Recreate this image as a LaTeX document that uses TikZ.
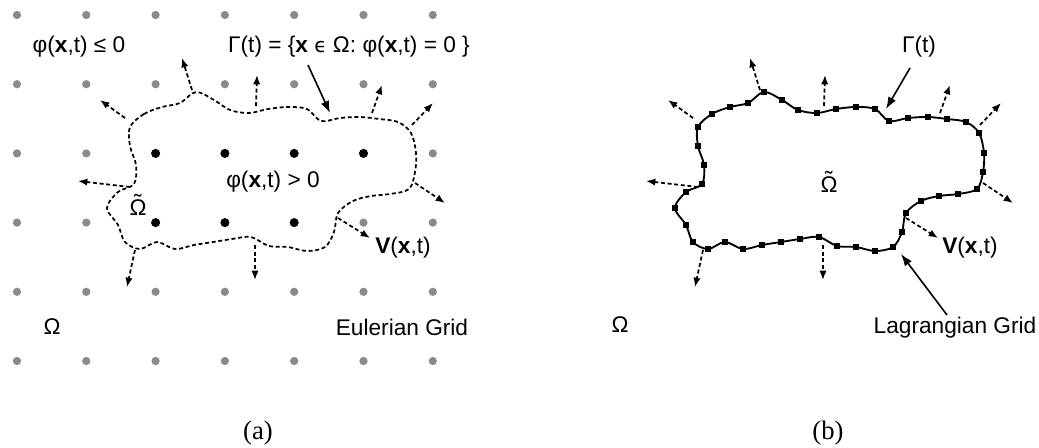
\documentclass[tikz,border=0pt]{standalone}
\usepackage{fontspec}
\setmainfont{Liberation Sans}
\newfontfamily\capserif{Liberation Serif}
\newfontfamily\dejavu{DejaVu Sans}
\usetikzlibrary{arrows.meta}
\definecolor{dotgray}{RGB}{138,138,138}
\newcommand\tOm{\ooalign{Ω\cr\hidewidth\raisebox{0.22em}{˜}\hidewidth\cr}}
\begin{document}
\begin{tikzpicture}[x=0.75pt,y=-0.75pt,
  font=\fontsize{17}{20}\selectfont,
  gdot/.style={circle,fill=dotgray,inner sep=0pt,minimum size=6.2pt},
  bdot/.style={circle,fill=black,inner sep=0pt,minimum size=6.8pt},
  vel/.style={line width=1.3pt,dash pattern=on 3pt off 2pt,-{Latex[length=7pt,width=5.5pt]}},
  iface/.style={line width=1.3pt,dash pattern=on 3pt off 2pt},
  lag/.style={line width=1.4pt},
  sq/.style={rectangle,fill=black,inner sep=0pt,minimum size=4pt},
  lbl/.style={inner sep=0pt},
  caption/.style={inner sep=0pt,font=\capserif\fontsize{20}{24}\selectfont},
  pointer/.style={line width=1.2pt,-{Latex[length=9pt,width=6.5pt]}}]
\useasboundingbox (0,0) rectangle (1039,447);

% ---------- (a) Eulerian grid ----------
\foreach \i in {0,...,6}{
  \foreach \j in {0,...,5}{
    \node[gdot] (g-\i-\j) at ({17+69.3*\i},{15+69.2*\j}) {};
  }
}
\foreach \i/\j in {2/2,3/2,4/2,5/2,2/3,3/3,4/3}{
  \node[bdot] (b-\i-\j) at ({17+69.3*\i},{15+69.2*\j}) {};
}

\draw[iface] plot[smooth cycle,tension=0.55] coordinates {
 (130,127) (144,114) (162,107) (180,103) (196,92) (214,100) (230,110) (249,113)
 (268,109) (288,107) (307,109) (321,121) (340,118) (360,117) (379,119) (398,122)
 (411,133) (416,153) (415,172) (409,189) (390,194) (371,196) (353,201) (338,213)
 (334,232) (325,247) (307,251) (288,247) (269,246) (251,237) (232,239) (213,242)
 (194,245) (175,249) (157,242) (140,249) (125,242) (118,225) (107,208) (118,192)
 (134,184) (136,165) (130,146)};

\foreach \a/\b [count=\k] in {{125,118}/{100,100},{192,90}/{182,58},{256,106}/{257,75},
  {372,113}/{382,85},{412,125}/{433,103},{415,183}/{445,203},{130,187}/{78,181},
  {135,250}/{127,287},{255,245}/{255,280},{338,218}/{370,238}}{
  \coordinate (va\k) at (\a);
  \coordinate (vb\k) at (\b);
  \draw[vel] (va\k) -- (vb\k);
}

\node[lbl] (phineg) at (79,47) {φ(\textbf{x},t) ≤ 0};
\node[lbl] (gammadef) at (349,47) {Γ(t) = \{\textbf{x} {\dejavu\fontsize{15}{18}\selectfont ϵ} Ω: φ(\textbf{x},t) = 0 \}};
\node[lbl] (phipos) at (273,182) {φ(\textbf{x},t) > 0};
\node[lbl] (omtL) at (138,208) {\tOm};
\node[lbl] (velL) at (403,248) {\textbf{V}(\textbf{x},t)};
\node[lbl] (omL) at (52,327) {Ω};
\node[lbl] (euler) at (402,327) {Eulerian Grid};
\coordinate (gpA) at (308,65);
\coordinate (gpB) at (330,113);
\draw[pointer] (gpA) -- (gpB);
\node[caption] (capA) at (258,433) {(a)};

% ---------- (b) Lagrangian grid ----------
\begin{scope}[xshift=426pt]
\draw[lag] plot[smooth cycle,tension=0.55] coordinates {
 (130,127) (144,114) (162,107) (180,103) (196,92) (214,100) (230,110) (249,113)
 (268,109) (288,107) (307,109) (321,121) (340,118) (360,117) (379,119) (398,122)
 (411,133) (416,153) (415,172) (409,189) (390,194) (371,196) (353,201) (338,213)
 (334,232) (325,247) (307,251) (288,247) (269,246) (251,237) (232,239) (213,242)
 (194,245) (175,249) (157,242) (140,249) (125,242) (118,225) (107,208) (118,192)
 (134,184) (136,165) (130,146)};
\foreach \p [count=\k] in {{130,127},{144,114},{162,107},{180,103},{196,92},{214,100},{230,110},{249,113},
 {268,109},{288,107},{307,109},{321,121},{340,118},{360,117},{379,119},{398,122},
 {411,133},{416,153},{415,172},{409,189},{390,194},{371,196},{353,201},{338,213},
 {334,232},{325,247},{307,251},{288,247},{269,246},{251,237},{232,239},{213,242},
 {194,245},{175,249},{157,242},{140,249},{125,242},{118,225},{107,208},{118,192},
 {134,184},{136,165},{130,146}}{
  \node[sq] (sq\k) at (\p) {};
}
\foreach \a/\b [count=\k] in {{125,118}/{100,100},{192,90}/{182,58},{256,106}/{257,75},
  {372,113}/{382,85},{412,125}/{433,103},{415,183}/{445,203},{130,187}/{78,181},
  {135,250}/{127,287},{255,245}/{255,280},{338,218}/{370,238}}{
  \coordinate (wa\k) at (\a);
  \coordinate (wb\k) at (\b);
  \draw[vel] (wa\k) -- (wb\k);
}
\end{scope}

\node[lbl] (gammaR) at (919,47) {Γ(t)};
\node[lbl] (omtR) at (829,185) {\tOm};
\node[lbl] (velR) at (970,248) {\textbf{V}(\textbf{x},t)};
\node[lbl] (omR) at (620,325) {Ω};
\node[lbl] (lagr) at (955,328) {Lagrangian Grid};
\coordinate (grA) at (910,68);
\coordinate (grB) at (886,109);
\draw[pointer] (grA) -- (grB);
\coordinate (lgA) at (947,315);
\coordinate (lgB) at (901,254);
\draw[pointer] (lgA) -- (lgB);
\node[caption] (capB) at (828,433) {(b)};
\end{tikzpicture}
\end{document}
